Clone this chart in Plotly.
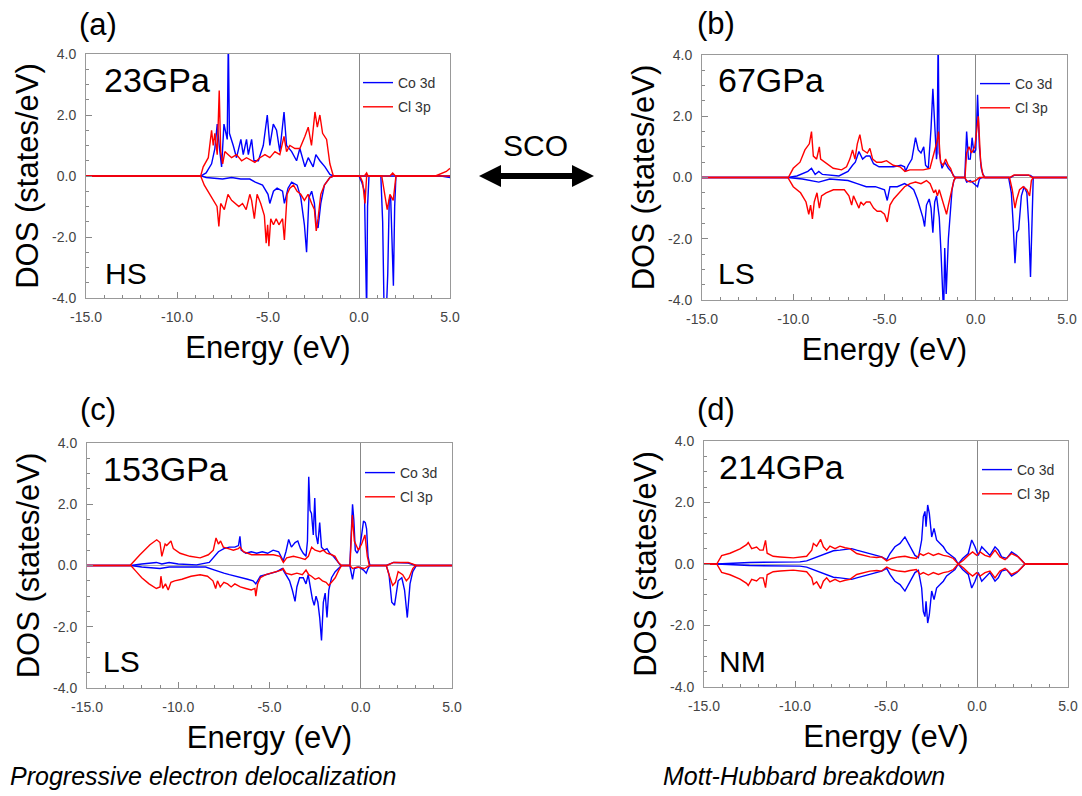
import plotly.graph_objects as go

# ---------------- data (energy in eV, DOS in states/eV; spin-down negative) ----------------
# (a) 23 GPa, HS
a_co_up_E = [-15, -8.7, -8.4, -8.1, -7.92, -7.79, -7.68, -7.55, -7.42, -7.24,
             -7.18, -7.12, -6.91, -6.73, -6.49, -6.36, -6.18, -6.08, -5.9, -5.77,
             -5.53, -5.26, -5.04, -4.9, -4.71, -4.53, -4.35, -4.12, -3.98, -3.7,
             -3.43, -3.25, -2.97, -2.79, -2.52, -2.37, -2.15, -1.87, -1.6, -1.41, 5]
a_co_up = [0, 0, 0.1, 0.4, 0.9, 1.7, 1.0, 0.3, 1.7, 1.2,
           4.5, 1.4, 1.0, 0.6, 1.2, 0.7, 1.2, 0.7, 1.2, 0.5,
           0.5, 1.0, 2.0, 1.0, 1.7, 1.5, 0.8, 2.1, 1.0, 0.8,
           0.5, 0.9, 0.3, 0.6, 0.3, 0.7, 0.5, 0.3, 0.05, 0, 0]
a_cl_up_E = [-15, -8.7, -8.56, -8.28, -8.1, -8.01, -7.92, -7.79, -7.68, -7.6,
             -7.49, -7.37, -7.18, -7.0, -6.73, -6.45, -6.18, -5.9, -5.72, -5.44,
             -5.17, -4.9, -4.62, -4.35, -4.12, -3.98, -3.8, -3.52, -3.25, -2.97,
             -2.79, -2.61, -2.42, -2.29, -2.15, -2.0, -1.78, -1.6, -1.41, 0.3,
             0.42, 0.5, 1.7, 1.85, 2.0, 4.2, 4.8, 5]
a_cl_up = [0, 0, 0.3, 0.6, 1.5, 1.0, 1.4, 0.7, 2.8, 0.8,
           0.4, 0.8, 0.7, 0.6, 0.7, 0.5, 0.6, 0.5, 0.45, 0.6,
           0.7, 0.6, 0.8, 0.7, 1.3, 0.8, 1.0, 0.9, 0.9, 1.3,
           1.6, 1.0, 2.1, 1.6, 2.0, 1.4, 1.2, 0.4, 0, 0,
           0.1, 0, 0, 0.1, 0, 0, 0.15, 0.25]
a_co_dn_E = [-15, -8.65, -8.4, -7.5, -7.0, -6.5, -6.0, -5.7, -5.3, -5.0,
             -4.9, -4.7, -4.5, -4.2, -4.1, -3.9, -3.7, -3.4, -3.2, -3.0,
             -2.88, -2.75, -2.6, -2.45, -2.35, -2.25, -2.1, -1.9, -1.6, -1.4,
             0.0, 0.15, 0.3, 0.37, 0.42, 0.47, 0.55, 1.2, 1.3, 1.38,
             1.5, 1.58, 1.66, 1.74, 1.82, 1.89, 1.96, 2.03, 4.5, 5]
a_co_dn = [0, 0, -0.05, -0.1, -0.05, -0.1, -0.1, -0.2, -0.3, -0.6,
           -0.9, -0.5, -0.4, -0.5, -0.9, -0.4, -0.2, -0.3, -0.7, -1.6,
           -2.5, -0.7, -0.5, -0.9, -1.6, -1.7, -0.9, -0.3, -0.05, 0,
           0, -0.2, -0.5, -4.5, -4.5, -1.0, 0, 0, -1.5, -4.5,
           -4.5, -3.2, -0.8, -0.7, -2.4, -3.6, -1.0, 0, 0, -0.05]
a_cl_dn_E = [-15, -8.7, -8.5, -8.2, -8.0, -7.8, -7.7, -7.6, -7.4, -7.2,
             -7.0, -6.8, -6.6, -6.4, -6.2, -6.0, -5.9, -5.75, -5.6, -5.4,
             -5.2, -5.1, -5.02, -4.95, -4.85, -4.7, -4.55, -4.4, -4.2, -4.1,
             -3.95, -3.8, -3.6, -3.4, -3.2, -3.0, -2.8, -2.6, -2.45, -2.35,
             -2.25, -2.1, -1.9, -1.6, -1.4, 0.05, 0.2, 0.33, 0.42, 1.25,
             1.43, 1.55, 1.7, 1.88, 2.03, 5]
a_cl_dn = [0, 0, -0.3, -0.6, -0.8, -1.0, -1.65, -0.9, -1.1, -0.6,
           -0.8, -0.9, -1.0, -0.9, -1.1, -0.6, -0.8, -1.4, -0.6, -0.9,
           -1.3, -2.2, -1.6, -2.3, -1.4, -1.6, -1.4, -1.6, -1.4, -2.1,
           -0.6, -0.4, -0.3, -0.5, -0.6, -0.8, -0.6, -0.9, -1.1, -1.8,
           -1.4, -0.6, -0.3, -0.05, 0, 0, -0.2, -0.9, 0, 0,
           -0.6, -1.1, -0.6, -0.8, 0, 0]

# (b) 67 GPa, LS
b_co_up_E = [-15, -10.3, -9.8, -9.2, -9.0, -8.8, -8.6, -8.4, -7.5, -7.0,
             -6.75, -6.6, -6.4, -6.2, -6.0, -5.8, -5.6, -5.3, -4.9, -4.5,
             -4.1, -3.9, -3.85, -3.7, -3.5, -3.3, -3.15, -3.0, -2.85, -2.75,
             -2.6, -2.45, -2.35, -2.25, -2.15, -2.12, -2.06, -2.0, -1.85, -1.7,
             -1.6, -1.5, -1.35, -1.2, -1.1, -0.6, -0.5, -0.4, -0.3, -0.2,
             -0.1, 0.0, 0.1, 0.2, 0.3, 0.4, 0.5, 1.9, 2.1, 3.0,
             3.15, 5]
b_co_up = [0, 0, 0.05, 0.2, 0.3, 0.1, 0.2, 0.1, 0.05, 0.2,
           0.4, 0.5, 0.85, 0.6, 0.7, 0.7, 0.45, 0.35, 0.35, 0.35,
           0.4, 0.35, 0.2, 0.4, 0.6, 1.3, 0.9, 0.8, 1.0, 0.4,
           0.3, 1.6, 2.9, 1.5, 0.6, 0.8, 4.6, 0.8, 0.3, 0.5,
           0.4, 0.3, 0.2, 0.05, 0, 0, 1.5, 0.6, 0.6, 1.3,
           0.8, 0.9, 2.7, 1.0, 0.3, 0.1, 0, 0, 0.07, 0.07,
           0, 0]
b_cl_up_E = [-15, -10.27, -10.0, -9.63, -9.36, -9.12, -9.0, -8.9, -8.72, -8.57,
             -8.5, -8.26, -7.81, -7.35, -7.08, -6.9, -6.75, -6.62, -6.49, -6.35,
             -6.2, -6.07, -5.94, -5.8, -5.65, -5.43, -5.16, -4.89, -4.52, -4.15,
             -3.88, -3.61, -3.24, -2.88, -2.51, -2.37, -2.24, -2.11, -2.04, -1.93,
             -1.78, -1.65, -1.51, -1.38, -1.23, -1.14, -0.59, -0.5, -0.37, -0.23,
             -0.05, 0.14, 0.27, 0.38, 0.5, 1.85, 2.1, 2.9, 3.1, 5]
b_cl_up = [0, 0, 0.3, 0.5, 0.9, 1.1, 1.5, 0.7, 0.6, 1.0,
           0.6, 0.5, 0.3, 0.25, 0.35, 0.6, 0.9, 0.6, 1.1, 1.4,
           0.9, 0.85, 0.8, 0.95, 0.6, 0.5, 0.5, 0.55, 0.4, 0.35,
           0.2, 0.25, 0.25, 0.25, 0.3, 0.6, 0.9, 1.2, 1.5, 0.5,
           0.4, 0.6, 0.4, 0.3, 0.05, 0, 0, 0.8, 1.0, 0.8,
           1.0, 2.0, 0.5, 0.1, 0, 0, 0.08, 0.08, 0, 0]
b_co_dn_E = [-15, -10.3, -9.5, -9.0, -8.6, -8.0, -7.0, -6.5, -6.0, -5.5,
             -5.0, -4.85, -4.7, -4.3, -3.9, -3.6, -3.4, -3.2, -3.05, -2.9,
             -2.8, -2.7, -2.55, -2.45, -2.35, -2.25, -2.15, -2.0, -1.9, -1.82,
             -1.76, -1.7, -1.62, -1.5, -1.4, -1.3, -1.2, -1.1, -0.6, -0.5,
             -0.3, -0.1, 0.1, 0.2, 0.35, 1.8, 1.95, 2.05, 2.15, 2.25,
             2.35, 2.5, 2.65, 2.8, 2.9, 3.0, 3.1, 3.15, 5]
b_co_dn = [0, 0, -0.05, -0.1, -0.15, -0.05, -0.1, -0.2, -0.3, -0.3,
           -0.4, -0.75, -0.3, -0.3, -0.2, -0.3, -0.4, -0.7, -1.0, -1.3,
           -1.6, -0.9, -0.7, -1.0, -1.8, -0.8, -0.6, -1.3, -2.5, -4.5,
           -4.5, -2.3, -3.8, -2.0, -1.0, -0.4, -0.1, 0, 0, -0.15,
           -0.1, -0.2, -0.3, -0.05, 0, 0, -0.5, -1.5, -2.8, -1.8,
           -1.7, -0.6, -0.3, -0.5, -1.5, -3.25, -1.0, 0, 0]
b_cl_dn_E = [-15, -10.3, -10.0, -9.6, -9.3, -9.15, -9.05, -8.95, -8.85, -8.7,
             -8.57, -8.45, -8.2, -7.8, -7.2, -6.95, -6.8, -6.7, -6.55, -6.4,
             -6.3, -6.15, -6.0, -5.8, -5.6, -5.4, -5.2, -5.0, -4.85, -4.7,
             -4.5, -4.2, -3.9, -3.6, -3.3, -3.0, -2.7, -2.5, -2.3, -2.2,
             -2.1, -2.0, -1.9, -1.8, -1.7, -1.6, -1.5, -1.35, -1.2, -1.1,
             -0.6, -0.5, -0.3, 0.0, 0.2, 1.85, 2.0, 2.15, 2.25, 2.4,
             2.6, 2.8, 2.95, 3.05, 3.15, 5]
b_cl_dn = [0, 0, -0.3, -0.5, -0.8, -1.2, -0.9, -1.35, -0.8, -0.5,
           -1.0, -0.6, -0.5, -0.4, -0.4, -0.6, -0.9, -0.6, -0.8, -1.0,
           -0.8, -0.9, -0.8, -0.8, -1.0, -1.1, -1.1, -1.2, -1.45, -0.9,
           -0.7, -0.5, -0.3, -0.2, -0.15, -0.2, -0.1, -0.2, -0.5, -0.4,
           -0.6, -0.4, -0.6, -0.8, -1.0, -1.2, -0.9, -0.5, -0.1, 0,
           0, -0.1, -0.15, -0.1, 0, 0, -0.4, -1.0, -0.7, -0.4,
           -0.3, -0.4, -0.6, -0.1, 0, 0]

# (c) 153 GPa, LS
c_co_up_E = [-15, -12.6, -12.0, -11.2, -10.9, -10.5, -10.0, -9.0, -8.3, -8.0,
             -7.8, -7.5, -7.2, -6.9, -6.7, -6.62, -6.55, -6.3, -6.0, -5.7,
             -5.4, -5.1, -4.8, -4.5, -4.25, -4.1, -3.95, -3.8, -3.6, -3.45,
             -3.3, -3.15, -3.0, -2.92, -2.85, -2.78, -2.7, -2.6, -2.52, -2.45,
             -2.35, -2.25, -2.15, -2.0, -1.85, -1.7, -1.5, -1.3, -1.1, -0.6,
             -0.5, -0.45, -0.38, -0.3, -0.2, -0.05, 0.05, 0.15, 0.25, 0.32,
             0.4, 0.5, 1.4, 1.8, 2.6, 3.0, 5]
c_co_up = [0, 0, 0.05, 0.1, 0.05, 0.1, 0.05, 0.02, 0.1, 0.3,
           0.45, 0.55, 0.6, 0.6, 0.65, 0.95, 0.5, 0.4, 0.45, 0.4,
           0.45, 0.4, 0.5, 0.45, 0.15, 0.45, 0.85, 0.6, 0.75, 0.8,
           0.55, 0.4, 0.3, 0.8, 2.9, 1.8, 1.7, 1.0, 2.2, 1.0,
           0.7, 1.4, 0.6, 0.5, 0.55, 0.4, 0.3, 0.15, 0, 0,
           1.2, 2.0, 1.5, 0.5, 0.4, 0.6, 1.0, 1.45, 1.4, 1.2,
           0.3, 0, 0, 0.1, 0.08, 0, 0]
c_cl_up_E = [-15, -12.64, -12.1, -11.55, -11.18, -11.0, -10.9, -10.72, -10.63, -10.4,
             -10.27, -9.9, -9.36, -8.8, -8.35, -8.08, -7.93, -7.8, -7.68, -7.53,
             -7.26, -6.98, -6.71, -6.62, -6.43, -6.25, -5.98, -5.52, -5.15, -4.79,
             -4.42, -4.24, -4.06, -3.69, -3.33, -3.05, -2.87, -2.69, -2.5, -2.23,
             -2.05, -1.87, -1.59, -1.41, -1.23, -1.05, -0.59, -0.46, -0.35, -0.13,
             0.05, 0.23, 0.36, 0.47, 1.42, 1.8, 2.6, 3.06, 5]
c_cl_up = [0, 0, 0.35, 0.68, 0.84, 0.75, 0.3, 0.7, 0.65, 0.8,
           0.55, 0.4, 0.3, 0.25, 0.35, 0.5, 0.9, 0.7, 0.8, 0.6,
           0.55, 0.5, 0.55, 0.6, 0.45, 0.4, 0.35, 0.35, 0.35, 0.35,
           0.3, 0.1, 0.25, 0.3, 0.25, 0.2, 0.3, 0.6, 0.5, 0.45,
           0.5, 0.4, 0.35, 0.3, 0.1, 0, 0, 1.65, 0.8, 0.5,
           0.7, 1.0, 0.3, 0, 0, 0.1, 0.1, 0, 0]
c_co_dn_E = [-15, -12.6, -12.0, -11.0, -10.5, -10.0, -8.5, -8.0, -7.8, -7.5,
             -7.2, -6.8, -6.5, -6.2, -5.9, -5.75, -5.5, -5.2, -4.9, -4.6,
             -4.3, -4.1, -3.9, -3.75, -3.6, -3.5, -3.35, -3.15, -3.0, -2.88,
             -2.75, -2.65, -2.55, -2.45, -2.35, -2.25, -2.15, -2.05, -1.95, -1.85,
             -1.75, -1.6, -1.4, -1.2, -1.05, -0.6, -0.5, -0.45, -0.35, -0.1,
             0.15, 0.3, 0.4, 0.5, 1.4, 1.55, 1.7, 1.85, 1.95, 2.05,
             2.25, 2.4, 2.55, 2.7, 2.85, 3.05, 5]
c_co_dn = [0, 0, -0.05, -0.1, -0.05, -0.05, -0.05, -0.15, -0.2, -0.25,
           -0.3, -0.35, -0.4, -0.45, -0.5, -0.6, -0.35, -0.3, -0.25, -0.2,
           -0.1, -0.3, -0.5, -0.8, -1.17, -0.7, -0.4, -0.4, -0.6, -0.3,
           -0.8, -1.1, -1.3, -1.0, -1.2, -1.7, -2.45, -1.2, -0.9, -1.7,
           -0.8, -0.4, -0.2, -0.1, 0, 0, -0.3, -0.45, -0.1, -0.05,
           -0.15, -0.25, -0.1, 0, 0, -0.3, -1.2, -1.3, -0.9, -0.5,
           -0.4, -0.8, -1.7, -0.6, -0.2, 0, 0]
c_cl_dn_E = [-15, -12.6, -12.3, -12.0, -11.6, -11.2, -11.0, -10.95, -10.85, -10.7,
             -10.55, -10.4, -10.2, -9.8, -9.3, -8.8, -8.4, -8.1, -7.95, -7.85,
             -7.7, -7.5, -7.3, -7.1, -6.9, -6.6, -6.3, -6.0, -5.8, -5.75,
             -5.65, -5.5, -5.2, -4.9, -4.6, -4.35, -4.25, -4.1, -3.8, -3.5,
             -3.2, -3.0, -2.85, -2.7, -2.5, -2.3, -2.1, -1.9, -1.75, -1.6,
             -1.4, -1.2, -1.05, -0.6, -0.45, -0.2, 0.2, 0.5, 1.4, 1.55,
             1.75, 1.9, 2.05, 2.3, 2.5, 2.65, 2.85, 3.0, 5]
c_cl_dn = [0, 0, -0.2, -0.4, -0.6, -0.75, -0.7, -0.35, -0.75, -0.6,
           -0.8, -0.55, -0.5, -0.45, -0.35, -0.3, -0.35, -0.5, -0.75, -0.5,
           -0.7, -0.55, -0.6, -0.7, -0.6, -0.7, -0.75, -0.8, -0.75, -1.0,
           -0.6, -0.4, -0.3, -0.25, -0.2, -0.15, -0.1, -0.25, -0.3, -0.25,
           -0.3, -0.15, -0.3, -0.35, -0.45, -0.4, -0.5, -0.55, -0.65, -0.55,
           -0.4, -0.15, 0, 0, -0.1, -0.05, -0.1, 0, 0, -0.3,
           -0.65, -0.55, -0.2, -0.3, -0.5, -0.4, -0.1, 0, 0]

# (d) 214 GPa, NM (spin-symmetric)
d_co_E = [-15, -14.3, -12.5, -11.5, -10.82, -9.73, -9.36, -8.99, -8.63, -8.26,
          -7.89, -7.53, -7.16, -6.89, -6.61, -6.24, -5.88, -5.51, -5.24, -4.96,
          -4.78, -4.51, -4.23, -3.96, -3.77, -3.59, -3.41, -3.22, -3.04, -2.95,
          -2.86, -2.8, -2.71, -2.62, -2.49, -2.36, -2.22, -2.03, -1.85, -1.67,
          -1.39, -1.21, -1.03, -0.79, -0.48, -0.29, -0.11, 0.07, 0.26, 0.44,
          0.71, 0.99, 1.17, 1.35, 1.63, 1.9, 2.18, 2.45, 2.64, 5]
d_co_up = [0, 0, 0.05, 0.05, 0.07, 0.07, 0.1, 0.18, 0.28, 0.36,
           0.43, 0.45, 0.49, 0.5, 0.45, 0.39, 0.34, 0.28, 0.23, 0.14,
           0.34, 0.56, 0.67, 0.88, 0.67, 0.45, 0.28, 0.21, 0.78, 1.54,
           1.71, 1.21, 1.92, 1.65, 0.88, 1.16, 0.78, 0.67, 0.56, 0.39,
           0.25, 0.18, 0, 0.18, 0.34, 0.78, 0.56, 0.28, 0.56, 0.45,
           0.28, 0.56, 0.45, 0.23, 0.18, 0.39, 0.28, 0.12, 0, 0]
d_co_dn = [0, 0, -0.05, -0.05, -0.07, -0.07, -0.1, -0.18, -0.28, -0.36,
           -0.43, -0.45, -0.49, -0.5, -0.45, -0.39, -0.34, -0.28, -0.23, -0.14,
           -0.34, -0.56, -0.67, -0.88, -0.67, -0.45, -0.28, -0.21, -0.78, -1.54,
           -1.71, -1.21, -1.92, -1.65, -0.88, -1.16, -0.78, -0.67, -0.56, -0.39,
           -0.25, -0.18, 0, -0.18, -0.34, -0.78, -0.56, -0.28, -0.56, -0.45,
           -0.28, -0.56, -0.45, -0.23, -0.18, -0.39, -0.28, -0.12, 0, 0]
d_cl_E = [-15, -14.3, -14.03, -13.57, -13.02, -12.66, -12.57, -12.38, -12.11, -11.93,
          -11.75, -11.62, -11.53, -11.2, -10.82, -10.09, -9.36, -9.2, -9.08, -8.99,
          -8.81, -8.59, -8.44, -8.26, -8.08, -7.8, -7.53, -7.25, -6.98, -6.61,
          -6.24, -5.88, -5.51, -5.24, -4.96, -4.69, -4.32, -3.96, -3.68, -3.33,
          -3.13, -2.95, -2.67, -2.4, -2.12, -1.85, -1.57, -1.3, -1.03, -0.75,
          -0.48, -0.24, -0.02, 0.17, 0.44, 0.71, 0.99, 1.26, 1.54, 1.9,
          2.27, 2.64, 5]
d_cl_up = [0, 0, 0.27, 0.35, 0.49, 0.63, 0.7, 0.5, 0.55, 0.45,
           0.45, 0.77, 0.35, 0.25, 0.23, 0.2, 0.25, 0.35, 0.45, 0.67,
           0.58, 0.8, 0.56, 0.45, 0.58, 0.5, 0.58, 0.53, 0.5, 0.34,
           0.28, 0.23, 0.21, 0.23, 0.1, 0.18, 0.23, 0.25, 0.21, 0.18,
           0.34, 0.28, 0.36, 0.28, 0.34, 0.28, 0.25, 0.18, 0, 0.12,
           0.28, 0.39, 0.28, 0.39, 0.28, 0.23, 0.45, 0.23, 0.14, 0.34,
           0.23, 0, 0]
d_cl_dn = [0, 0, -0.27, -0.35, -0.49, -0.63, -0.7, -0.5, -0.55, -0.45,
           -0.45, -0.77, -0.35, -0.25, -0.23, -0.2, -0.25, -0.35, -0.45, -0.67,
           -0.58, -0.8, -0.56, -0.45, -0.58, -0.5, -0.58, -0.53, -0.5, -0.34,
           -0.28, -0.23, -0.21, -0.23, -0.1, -0.18, -0.23, -0.25, -0.21, -0.18,
           -0.34, -0.28, -0.36, -0.28, -0.34, -0.28, -0.25, -0.18, 0, -0.12,
           -0.28, -0.39, -0.28, -0.39, -0.28, -0.23, -0.45, -0.23, -0.14, -0.34,
           -0.23, 0, 0]

panel_letters = ["(a)", "(b)", "(c)", "(d)"]
pressures = ["23GPa", "67GPa", "153GPa", "214GPa"]
spin_states = ["HS", "LS", "LS", "NM"]
x_tick_vals = [-15, -10, -5, 0, 5]
x_tick_text = ["-15.0", "-10.0", "-5.0", "0.0", "5.0"]
y_tick_vals = [-4, -2, 0, 2, 4]
y_tick_text = ["-4.0", "-2.0", "0.0", "2.0", "4.0"]

series = [
    (a_co_up_E, a_co_up, a_co_dn_E, a_co_dn, a_cl_up_E, a_cl_up, a_cl_dn_E, a_cl_dn),
    (b_co_up_E, b_co_up, b_co_dn_E, b_co_dn, b_cl_up_E, b_cl_up, b_cl_dn_E, b_cl_dn),
    (c_co_up_E, c_co_up, c_co_dn_E, c_co_dn, c_cl_up_E, c_cl_up, c_cl_dn_E, c_cl_dn),
    (d_co_E, d_co_up, d_co_E, d_co_dn, d_cl_E, d_cl_up, d_cl_E, d_cl_dn),
]
for s in series:
    for i in range(0, 8, 2):
        assert len(s[i]) == len(s[i + 1]), (len(s[i]), len(s[i + 1]))

# ---------------- layout geometry (pixels) ----------------
W, H = 1082, 796
FONT = "Liberation Sans, Arial, Helvetica, sans-serif"
BLUE = "#0000ff"
RED = "#ff0000"

def px(x):
    return x / W

def py(y):
    return 1 - y / H

# plot-area boxes: left, top, right, bottom (pixels)
boxes = [(86, 54, 450, 298), (702, 55, 1067, 300), (87, 443, 452, 688), (704, 441, 1068, 687)]
legend_pos = [(358, 67), (975, 68), (360, 457), (977, 454)]
letter_pos = [(98, 24), (716, 23), (98, 410), (716, 410)]
pressure_pos = [(102, 80), (716, 80), (101, 469), (717, 467)]
spin_pos = [(103, 273), (716, 273), (101, 661), (717, 661)]

fig = go.Figure()
annotations = []
for k, s in enumerate(series):
    ax = "" if k == 0 else str(k + 1)
    xa, ya = "x" + ax, "y" + ax
    leg = "legend" + ax
    co_up_E, co_up, co_dn_E, co_dn, cl_up_E, cl_up, cl_dn_E, cl_dn = s
    fig.add_trace(go.Scatter(x=co_up_E, y=co_up, mode="lines", name="Co 3d",
                             line=dict(color=BLUE, width=1.4), xaxis=xa, yaxis=ya,
                             legend=leg, legendgroup=f"co{k}", showlegend=True))
    fig.add_trace(go.Scatter(x=co_dn_E, y=co_dn, mode="lines", name="Co 3d",
                             line=dict(color=BLUE, width=1.4), xaxis=xa, yaxis=ya,
                             legend=leg, legendgroup=f"co{k}", showlegend=False))
    fig.add_trace(go.Scatter(x=cl_up_E, y=cl_up, mode="lines", name="Cl 3p",
                             line=dict(color=RED, width=1.4), xaxis=xa, yaxis=ya,
                             legend=leg, legendgroup=f"cl{k}", showlegend=True))
    fig.add_trace(go.Scatter(x=cl_dn_E, y=cl_dn, mode="lines", name="Cl 3p",
                             line=dict(color=RED, width=1.4), xaxis=xa, yaxis=ya,
                             legend=leg, legendgroup=f"cl{k}", showlegend=False))

    l, t, r, b = boxes[k]
    xaxis = dict(domain=[px(l), px(r)], range=[-15, 5], anchor=ya,
                 tickmode="array", tickvals=x_tick_vals, ticktext=x_tick_text,
                 ticks="inside", ticklen=6, tickcolor="#888", tickwidth=1,
                 minor=dict(tickmode="linear", tick0=-15, dtick=1, ticks="inside",
                            ticklen=3, tickcolor="#888"),
                 showline=True, mirror=True, linecolor="#999", linewidth=1,
                 showgrid=False, zeroline=True, zerolinecolor="#888", zerolinewidth=1,
                 tickfont=dict(family=FONT, size=14, color="#444"),
                 ticklabelstandoff=6,
                 title=dict(text="Energy (eV)", font=dict(family=FONT, size=31, color="black"),
                            standoff=12))
    yaxis = dict(domain=[py(b), py(t)], range=[-4, 4], anchor=xa,
                 tickmode="array", tickvals=y_tick_vals, ticktext=y_tick_text,
                 ticks="inside", ticklen=6, tickcolor="#888", tickwidth=1,
                 minor=dict(tickmode="linear", tick0=-4, dtick=0.5, ticks="inside",
                            ticklen=3, tickcolor="#888"),
                 showline=True, mirror=True, linecolor="#999", linewidth=1,
                 showgrid=False, zeroline=True, zerolinecolor="#aaa", zerolinewidth=1,
                 tickfont=dict(family=FONT, size=14, color="#444"),
                 ticklabelstandoff=6,
                 title=dict(text="DOS (states/eV)", font=dict(family=FONT, size=31, color="black"),
                            standoff=4))
    fig.update_layout(**{"xaxis" + ax: xaxis, "yaxis" + ax: yaxis})

    lx, ly = legend_pos[k]
    fig.update_layout(**{leg: dict(x=px(lx), y=py(ly), xanchor="left", yanchor="top",
                                   bgcolor="rgba(0,0,0,0)", borderwidth=0,
                                   font=dict(family=FONT, size=14, color="#333"),
                                   traceorder="grouped", tracegroupgap=3, itemwidth=30)})

    x0, y0 = letter_pos[k]
    annotations.append(dict(text=panel_letters[k], x=px(x0), y=py(y0), xref="paper", yref="paper",
                            xanchor="center", yanchor="middle", showarrow=False,
                            font=dict(family=FONT, size=31, color="black")))
    x0, y0 = pressure_pos[k]
    annotations.append(dict(text=pressures[k], x=px(x0), y=py(y0), xref="paper", yref="paper",
                            xanchor="left", yanchor="middle", showarrow=False,
                            font=dict(family=FONT, size=34, color="black")))
    x0, y0 = spin_pos[k]
    annotations.append(dict(text=spin_states[k], x=px(x0), y=py(y0), xref="paper", yref="paper",
                            xanchor="left", yanchor="middle", showarrow=False,
                            font=dict(family=FONT, size=30, color="black")))

annotations.append(dict(text="SCO", x=px(535), y=py(145), xref="paper", yref="paper",
                        xanchor="center", yanchor="middle", showarrow=False,
                        font=dict(family=FONT, size=30, color="black")))
annotations.append(dict(text="<i>Progressive electron delocalization</i>", x=px(8), y=py(776),
                        xref="paper", yref="paper", xanchor="left", yanchor="middle",
                        showarrow=False,
                        font=dict(family="Liberation Sans Narrow, " + FONT, size=25, color="black")))
annotations.append(dict(text="<i>Mott-Hubbard breakdown</i>", x=px(804), y=py(776),
                        xref="paper", yref="paper", xanchor="center", yanchor="middle",
                        showarrow=False,
                        font=dict(family="Liberation Sans Narrow, " + FONT, size=25, color="black")))

# double-headed SCO arrow
pts = [(479, 176), (501, 165), (501, 173), (572, 173), (572, 165), (594, 176),
       (572, 187), (572, 179), (501, 179), (501, 187)]
path = "M " + " L ".join(f"{px(x):.5f},{py(y):.5f}" for x, y in pts) + " Z"
fig.add_shape(type="path", path=path, xref="paper", yref="paper",
              fillcolor="black", line=dict(color="black", width=0))

fig.update_layout(width=W, height=H, autosize=False,
                  margin=dict(l=0, r=0, t=0, b=0, autoexpand=False),
                  paper_bgcolor="white", plot_bgcolor="white",
                  font=dict(family=FONT, color="black"),
                  annotations=annotations)

fig.write_html("out.html")
